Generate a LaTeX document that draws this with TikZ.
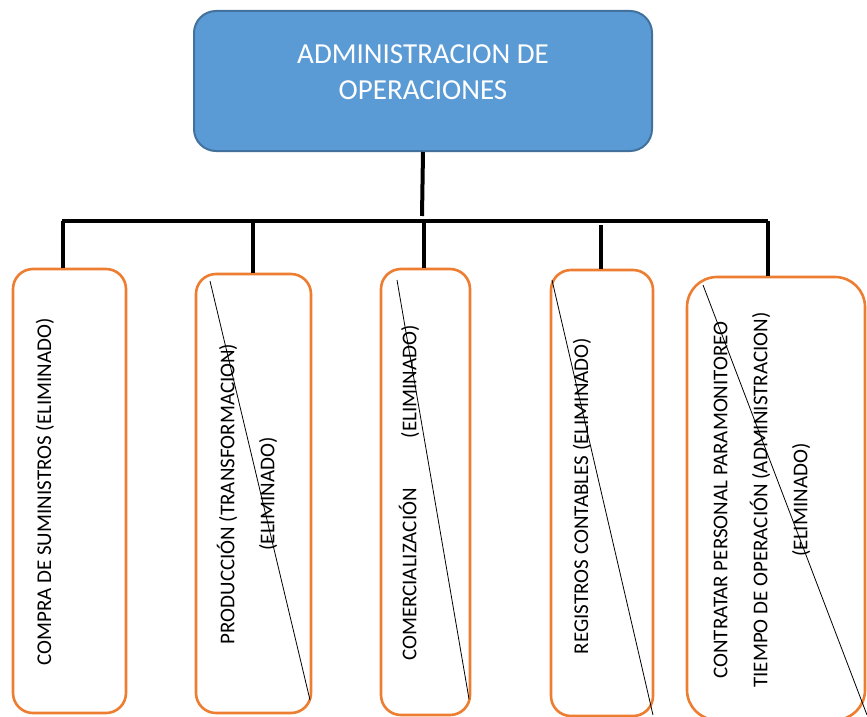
\documentclass[tikz,border=0pt]{standalone}
\usepackage{fontspec}
\setmainfont{Carlito}
\definecolor{topfill}{HTML}{5B9BD5}
\definecolor{topdraw}{HTML}{41719C}
\definecolor{orng}{HTML}{ED7D31}
\begin{document}
\begin{tikzpicture}[x=1pt,y=-1pt,
  topbox/.style={draw=topdraw, fill=topfill, line width=2pt, rounded corners=22pt, inner sep=0pt},
  subbox/.style={draw=orng, line width=2.6pt, rounded corners=20pt, inner sep=0pt},
  conn/.style={line width=4pt, black},
  strike/.style={line width=0.8pt, black},
  vtext/.style={rotate=90, font=\fontsize{21}{40}\selectfont, align=center, inner sep=0pt}]
\useasboundingbox (0,0) rectangle (867,717);
% top box
\node[topbox, minimum width=458pt, minimum height=140pt] (top) at (423,81) {};
\node[text=white, font=\fontsize{29}{36}\selectfont, align=center, inner sep=0pt] (title) at (423,72) {ADMINISTRACION DE\\OPERACIONES};
% sub boxes
\node[subbox, minimum width=113pt, minimum height=444pt] (b1) at (69.5,491) {};
\node[subbox, minimum width=115pt, minimum height=439pt] (b2) at (253.5,493.5) {};
\node[subbox, minimum width=89pt, minimum height=446pt] (b3) at (425.5,492) {};
\node[subbox, minimum width=102pt, minimum height=446pt] (b4) at (602,493) {};
\node[subbox, rounded corners=30pt, minimum width=178pt, minimum height=443pt] (b5) at (776,498.5) {};
% connectors
\coordinate (barL) at (62,221);
\coordinate (barR) at (768,221);
\coordinate (j1) at (63,221);
\coordinate (j2) at (253,221);
\coordinate (j3) at (424,221);
\coordinate (j4) at (601,225);
\coordinate (j5) at (768,221);
\coordinate (topend) at (422,216);
\draw[conn] (top.south) -- (topend);
\draw[conn] (barL) -- (barR);
\draw[conn] (j1) -- (j1 |- b1.north);
\draw[conn] (j2) -- (j2 |- b2.north);
\draw[conn] (j3) -- (j3 |- b3.north);
\draw[conn] (j4) -- (j4 |- b4.north);
\draw[conn] (j5) -- (j5 |- b5.north);
% texts
\node[vtext] (t1) at (45,492) {COMPRA DE SUMINISTROS (ELIMINADO)};
\node[vtext] (t2) at (247,494) {PRODUCCIÓN (TRANSFORMACION)\\(ELIMINADO)};
\node[vtext] (t3) at (409,493) {COMERCIALIZACIÓN\hspace{50pt}(ELIMINADO)};
\node[vtext] (t4) at (582,496) {REGISTROS CONTABLES (ELIMINADO)};
\node[vtext] (t5) at (762,500) {CONTRATAR PERSONAL PARAMONITOREO\\TIEMPO DE OPERACIÓN (ADMINISTRACION)\\(ELIMINADO)};
% strike lines
\draw[strike] (210,281) -- (310,700);
\draw[strike] (397,280) -- (469,699);
\draw[strike] (552,280) -- (653,715);
\draw[strike] (703,285) -- (867,715);
\end{tikzpicture}
\end{document}
